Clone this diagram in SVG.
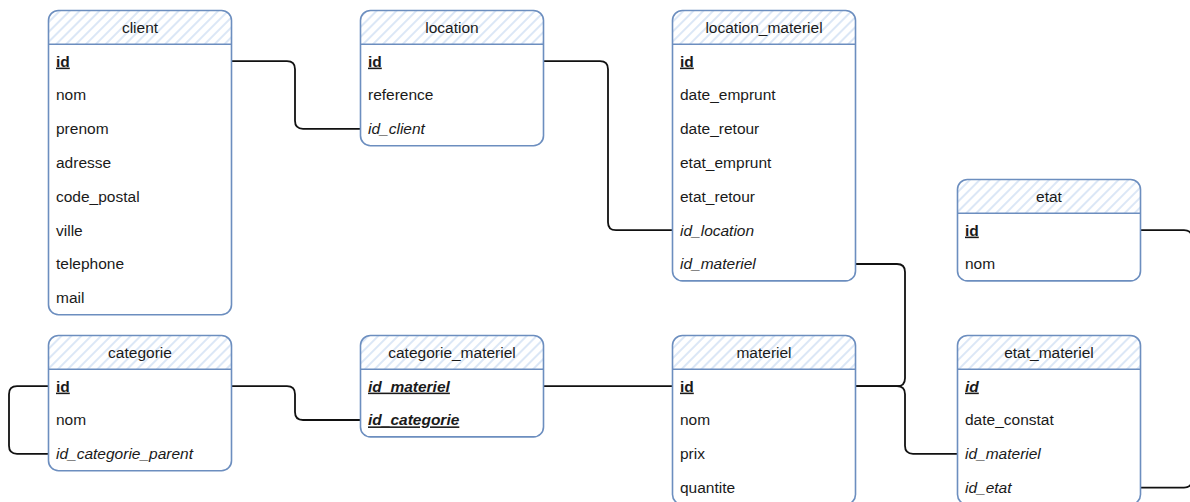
<svg xmlns="http://www.w3.org/2000/svg" width="1190" height="502" viewBox="0 0 1190 502">
<defs>
<pattern id="hatch" width="7" height="7" patternUnits="userSpaceOnUse" patternTransform="rotate(45)">
<rect width="7" height="7" fill="#ffffff"/>
<line x1="1" y1="0" x2="1" y2="7" stroke="#c9daf2" stroke-width="1.3"/>
</pattern>
<style>
.body{fill:#ffffff;stroke:none}
.hdr{fill:url(#hatch);stroke:none}
.out{fill:none;stroke:#6c8ebf;stroke-width:1.6}
.sep{stroke:#6c8ebf;stroke-width:1.4}
text{font-family:"Liberation Sans",Arial,sans-serif;font-size:15.5px;fill:#1a1a1a}
.title{text-anchor:middle}
.pk{font-weight:bold;text-decoration:underline}
.fk{font-style:italic}
.pkfk{font-weight:bold;font-style:italic;text-decoration:underline}
.conn path{fill:none;stroke:#111111;stroke-width:1.8}
</style>
</defs>
<rect width="1190" height="502" fill="#ffffff"/>

<g id="connectors" class="conn">
<path d="M231.5,61.2 H287 Q295,61.2 295,69.2 V120.8 Q295,128.8 303,128.8 H360.5"/>
<path d="M543.5,61.2 H600 Q608,61.2 608,69.2 V222.2 Q608,230.2 616,230.2 H672.5"/>
<path d="M855.5,264 H897 Q905,264 905,272 V378.2 Q905,386.2 897,386.2 H855.5"/>
<path d="M855.5,386.2 H897 Q905,386.2 905,394.2 V445.8 Q905,453.8 913,453.8 H957.5"/>
<path d="M1140.5,230.2 H1184 Q1192,230.2 1192,238.2 V479.6 Q1192,487.6 1184,487.6 H1140.5"/>
<path d="M48.5,386.2 H17 Q9,386.2 9,394.2 V445.8 Q9,453.8 17,453.8 H48.5"/>
<path d="M231.5,386.2 H287 Q295,386.2 295,394.2 V412 Q295,420 303,420 H360.5"/>
<path d="M543.5,386.2 H672.5"/>
</g>

<g id="client">
<rect class="body" x="48.5" y="10.5" width="183" height="304.2" rx="10"/>
<path class="hdr" d="M48.5,44.3 V20.5 A10,10 0 0 1 58.5,10.5 H221.5 A10,10 0 0 1 231.5,20.5 V44.3 Z"/>
<rect class="out" x="48.5" y="10.5" width="183" height="304.2" rx="10"/>
<line class="sep" x1="48.5" y1="44.3" x2="231.5" y2="44.3"/>
<text class="title" x="140" y="32.8">client</text>
<text class="pk" x="56" y="66.6">id</text>
<text x="56" y="100.4">nom</text>
<text x="56" y="134.2">prenom</text>
<text x="56" y="168">adresse</text>
<text x="56" y="201.8">code_postal</text>
<text x="56" y="235.6">ville</text>
<text x="56" y="269.4">telephone</text>
<text x="56" y="303.2">mail</text>
</g>

<g id="location">
<rect class="body" x="360.5" y="10.5" width="183" height="135.2" rx="10"/>
<path class="hdr" d="M360.5,44.3 V20.5 A10,10 0 0 1 370.5,10.5 H533.5 A10,10 0 0 1 543.5,20.5 V44.3 Z"/>
<rect class="out" x="360.5" y="10.5" width="183" height="135.2" rx="10"/>
<line class="sep" x1="360.5" y1="44.3" x2="543.5" y2="44.3"/>
<text class="title" x="452" y="32.8">location</text>
<text class="pk" x="368" y="66.6">id</text>
<text x="368" y="100.4">reference</text>
<text class="fk" x="368" y="134.2">id_client</text>
</g>

<g id="location_materiel">
<rect class="body" x="672.5" y="10.5" width="183" height="270.4" rx="10"/>
<path class="hdr" d="M672.5,44.3 V20.5 A10,10 0 0 1 682.5,10.5 H845.5 A10,10 0 0 1 855.5,20.5 V44.3 Z"/>
<rect class="out" x="672.5" y="10.5" width="183" height="270.4" rx="10"/>
<line class="sep" x1="672.5" y1="44.3" x2="855.5" y2="44.3"/>
<text class="title" x="764" y="32.8">location_materiel</text>
<text class="pk" x="680" y="66.6">id</text>
<text x="680" y="100.4">date_emprunt</text>
<text x="680" y="134.2">date_retour</text>
<text x="680" y="168">etat_emprunt</text>
<text x="680" y="201.8">etat_retour</text>
<text class="fk" x="680" y="235.6">id_location</text>
<text class="fk" x="680" y="269.4">id_materiel</text>
</g>

<g id="etat">
<rect class="body" x="957.5" y="179.5" width="183" height="101.4" rx="10"/>
<path class="hdr" d="M957.5,213.3 V189.5 A10,10 0 0 1 967.5,179.5 H1130.5 A10,10 0 0 1 1140.5,189.5 V213.3 Z"/>
<rect class="out" x="957.5" y="179.5" width="183" height="101.4" rx="10"/>
<line class="sep" x1="957.5" y1="213.3" x2="1140.5" y2="213.3"/>
<text class="title" x="1049" y="201.8">etat</text>
<text class="pk" x="965" y="235.6">id</text>
<text x="965" y="269.4">nom</text>
</g>

<g id="categorie">
<rect class="body" x="48.5" y="335.5" width="183" height="135.2" rx="10"/>
<path class="hdr" d="M48.5,369.3 V345.5 A10,10 0 0 1 58.5,335.5 H221.5 A10,10 0 0 1 231.5,345.5 V369.3 Z"/>
<rect class="out" x="48.5" y="335.5" width="183" height="135.2" rx="10"/>
<line class="sep" x1="48.5" y1="369.3" x2="231.5" y2="369.3"/>
<text class="title" x="140" y="357.8">categorie</text>
<text class="pk" x="56" y="391.6">id</text>
<text x="56" y="425.4">nom</text>
<text class="fk" x="56" y="459.2">id_categorie_parent</text>
</g>

<g id="categorie_materiel">
<rect class="body" x="360.5" y="335.5" width="183" height="101.4" rx="10"/>
<path class="hdr" d="M360.5,369.3 V345.5 A10,10 0 0 1 370.5,335.5 H533.5 A10,10 0 0 1 543.5,345.5 V369.3 Z"/>
<rect class="out" x="360.5" y="335.5" width="183" height="101.4" rx="10"/>
<line class="sep" x1="360.5" y1="369.3" x2="543.5" y2="369.3"/>
<text class="title" x="452" y="357.8">categorie_materiel</text>
<text class="pkfk" x="368" y="391.6">id_materiel</text>
<text class="pkfk" x="368" y="425.4">id_categorie</text>
</g>

<g id="materiel">
<rect class="body" x="672.5" y="335.5" width="183" height="169" rx="10"/>
<path class="hdr" d="M672.5,369.3 V345.5 A10,10 0 0 1 682.5,335.5 H845.5 A10,10 0 0 1 855.5,345.5 V369.3 Z"/>
<rect class="out" x="672.5" y="335.5" width="183" height="169" rx="10"/>
<line class="sep" x1="672.5" y1="369.3" x2="855.5" y2="369.3"/>
<text class="title" x="764" y="357.8">materiel</text>
<text class="pk" x="680" y="391.6">id</text>
<text x="680" y="425.4">nom</text>
<text x="680" y="459.2">prix</text>
<text x="680" y="493">quantite</text>
</g>

<g id="etat_materiel">
<rect class="body" x="957.5" y="335.5" width="183" height="169" rx="10"/>
<path class="hdr" d="M957.5,369.3 V345.5 A10,10 0 0 1 967.5,335.5 H1130.5 A10,10 0 0 1 1140.5,345.5 V369.3 Z"/>
<rect class="out" x="957.5" y="335.5" width="183" height="169" rx="10"/>
<line class="sep" x1="957.5" y1="369.3" x2="1140.5" y2="369.3"/>
<text class="title" x="1049" y="357.8">etat_materiel</text>
<text class="pkfk" x="965" y="391.6">id</text>
<text x="965" y="425.4">date_constat</text>
<text class="fk" x="965" y="459.2">id_materiel</text>
<text class="fk" x="965" y="493">id_etat</text>
</g>
</svg>
